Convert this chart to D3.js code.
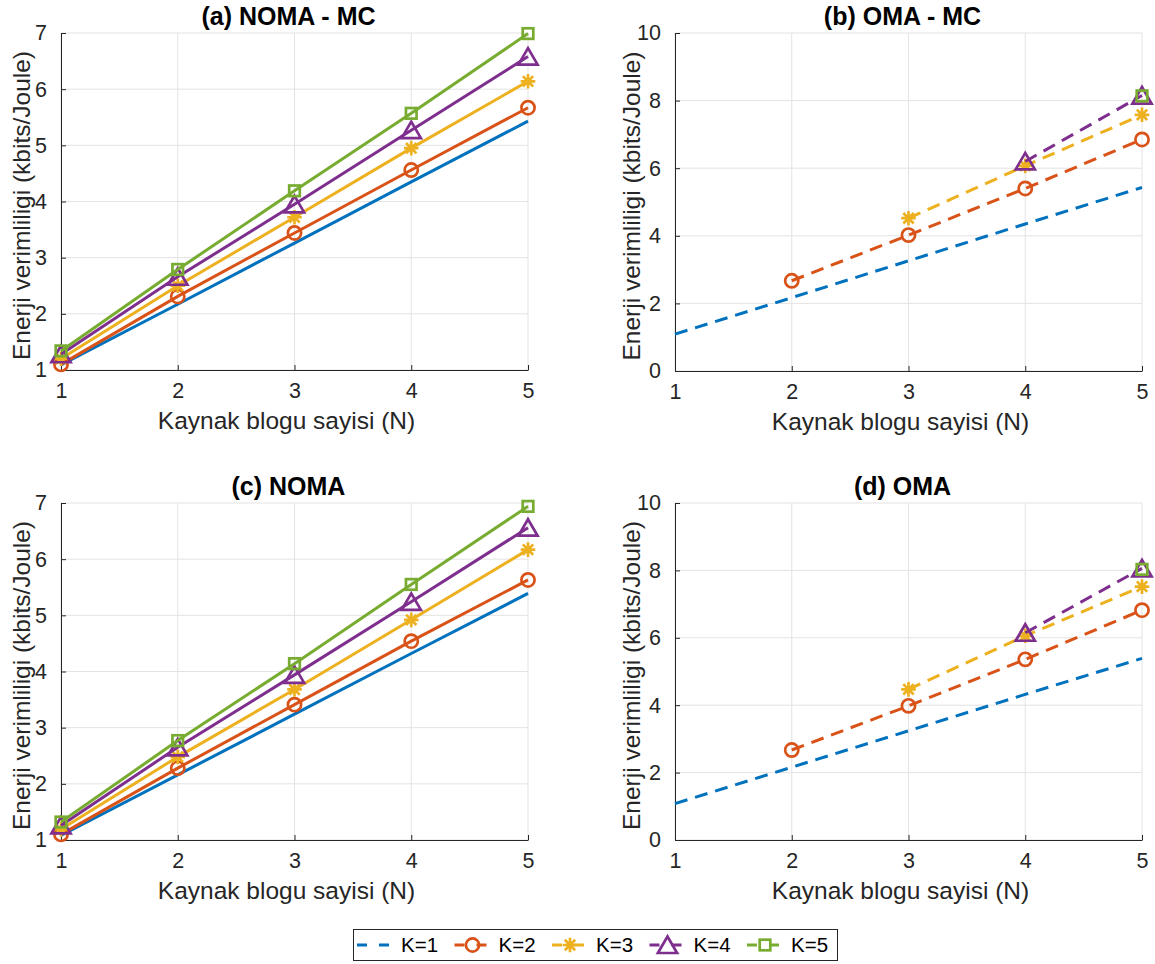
<!DOCTYPE html>
<html>
<head>
<meta charset="utf-8">
<script src="https://cdn.jsdelivr.net/npm/d3@7"></script>
<style>
  html, body { margin: 0; padding: 0; background: #fff; }
  svg { display: block; }
</style>
</head>
<body>
<script>
// ---------------- DATA ----------------
const N = [1, 2, 3, 4, 5];
const kLabels = ["K=1", "K=2", "K=3", "K=4", "K=5"];
const xTicks = [1, 2, 3, 4, 5];
const yTicksNoma = [1, 2, 3, 4, 5, 6, 7];
const yTicksOma = [0, 2, 4, 6, 8, 10];

// (a) NOMA - MC : one row per K
const nomaMC = [
  [1.09, 2.17, 3.26, 4.35, 5.43],
  [1.10, 2.31, 3.44, 4.56, 5.67],
  [1.20, 2.50, 3.72, 4.95, 6.14],
  [1.28, 2.66, 3.95, 5.27, 6.58],
  [1.34, 2.79, 4.19, 5.57, 6.99]
];
// (b) OMA - MC (null where N < K)
const omaMC = [
  [1.09, 2.17, 3.26, 4.35, 5.43],
  [null, 2.67, 4.02, 5.40, 6.85],
  [null, null, 4.52, 6.07, 7.58],
  [null, null, null, 6.20, 8.15],
  [null, null, null, null, 8.14]
];
// (c) NOMA
const noma = [
  [1.08, 2.16, 3.24, 4.32, 5.39],
  [1.10, 2.28, 3.41, 4.54, 5.63],
  [1.19, 2.48, 3.68, 4.92, 6.17],
  [1.26, 2.65, 3.94, 5.24, 6.56],
  [1.32, 2.77, 4.14, 5.55, 6.94]
];
// (d) OMA
const oma = [
  [1.08, 2.16, 3.24, 4.32, 5.39],
  [null, 2.67, 3.98, 5.36, 6.82],
  [null, null, 4.47, 6.06, 7.52],
  [null, null, null, 6.15, 8.06],
  [null, null, null, null, 8.03]
];

const panelTitles = ["(a) NOMA - MC", "(b) OMA - MC", "(c) NOMA", "(d) OMA"];
const xLabel = "Kaynak blogu sayisi (N)";
const yLabel = "Enerji verimliligi (kbits/Joule)";

// ---------------- STYLE ----------------
const W = 1155, H = 964;
const colors = ["#0072BD", "#D95319", "#EDB120", "#7E2F8E", "#77AC30"];
const markerTypes = [null, "circle", "asterisk", "triangle", "square"];
const FONT = "'Liberation Sans', Arial, Helvetica, sans-serif";
const AX = "#262626";
const GRID = "#e3e3e3";
const LW = 3;
const DASH = "13,8";

const svg = d3.select("body").append("svg")
  .attr("width", W).attr("height", H)
  .style("font-family", FONT);

const panels = [
  { title: panelTitles[0], data: nomaMC, dashed: false, yDom: [1, 7], yTicks: yTicksNoma, box: [61, 528, 33, 370], yl: 31 },
  { title: panelTitles[1], data: omaMC, dashed: true, yDom: [0, 10], yTicks: yTicksOma, box: [675, 1142, 33, 371], yl: 35 },
  { title: panelTitles[2], data: noma, dashed: false, yDom: [1, 7], yTicks: yTicksNoma, box: [61, 528, 503, 840], yl: 31 },
  { title: panelTitles[3], data: oma, dashed: true, yDom: [0, 10], yTicks: yTicksOma, box: [675, 1142, 503, 840], yl: 35 }
];

function drawMarker(g, type, cx, cy, color) {
  const s = g.append("g").attr("transform", `translate(${cx},${cy})`)
    .attr("fill", "none").attr("stroke", color).attr("stroke-width", 2.7);
  if (type === "circle") {
    s.append("circle").attr("r", 6.6);
  } else if (type === "square") {
    s.append("rect").attr("x", -5.3).attr("y", -5.3).attr("width", 10.6).attr("height", 10.6);
  } else if (type === "triangle") {
    s.append("path").attr("d", "M0,-8.5L9.6,8L-9.6,8Z").attr("stroke-linejoin", "miter");
  } else if (type === "asterisk") {
    const r = 7.3, d = 5.2;
    s.append("path").attr("d", `M${-r},0L${r},0M0,${-r}L0,${r}M${-d},${-d}L${d},${d}M${-d},${d}L${d},${-d}`);
  }
}

panels.forEach(p => {
  const [L, R, T, B] = p.box;
  const x = d3.scaleLinear().domain([1, 5]).range([L, R]);
  const y = d3.scaleLinear().domain(p.yDom).range([B, T]);
  const g = svg.append("g");

  // grid
  g.append("g").selectAll("line").data(xTicks).join("line")
    .attr("x1", d => x(d)).attr("x2", d => x(d)).attr("y1", T).attr("y2", B)
    .attr("stroke", GRID).attr("stroke-width", 1);
  g.append("g").selectAll("line").data(p.yTicks).join("line")
    .attr("x1", L).attr("x2", R).attr("y1", d => y(d)).attr("y2", d => y(d))
    .attr("stroke", GRID).attr("stroke-width", 1);

  // axes (D3 axes, inward ticks)
  const xAxis = d3.axisBottom(x).tickValues(xTicks).tickFormat(d3.format("d"))
    .tickSizeInner(-5).tickSizeOuter(0).tickPadding(13);
  const gx = g.append("g").attr("transform", `translate(0,${B})`).call(xAxis);
  const yAxis = d3.axisLeft(y).tickValues(p.yTicks).tickFormat(d3.format("d"))
    .tickSizeInner(-5).tickSizeOuter(0).tickPadding(14);
  const gy = g.append("g").attr("transform", `translate(${L},0)`).call(yAxis);
  [gx, gy].forEach(a => {
    a.select(".domain").attr("stroke", AX).attr("stroke-width", 1);
    a.selectAll(".tick line").attr("stroke", AX).attr("stroke-width", 1);
    a.selectAll(".tick text").attr("fill", AX).style("font-size", "21.5px").style("font-family", FONT);
  });

  // series
  const line = d3.line().defined(d => d.v !== null).x(d => x(d.n)).y(d => y(d.v));
  p.data.forEach((vals, k) => {
    const pts = N.map((n, i) => ({ n, v: vals[i] }));
    g.append("path").datum(pts).attr("d", line)
      .attr("fill", "none").attr("stroke", colors[k]).attr("stroke-width", LW)
      .attr("stroke-dasharray", p.dashed ? DASH : null);
    if (markerTypes[k]) {
      pts.filter(d => d.v !== null).forEach(d => drawMarker(g, markerTypes[k], x(d.n), y(d.v), colors[k]));
    }
  });

  // title
  g.append("text").attr("x", (L + R) / 2 - 6).attr("y", T - 8)
    .attr("text-anchor", "middle").attr("font-weight", "bold")
    .style("font-size", "25px").attr("fill", "#000").text(p.title);
  // x label
  g.append("text").attr("x", (L + R) / 2 - 8).attr("y", B + 59)
    .attr("text-anchor", "middle").style("font-size", "24.5px").attr("fill", AX).text(xLabel);
  // y label
  g.append("text").attr("transform", `translate(${L - p.yl},${(T + B) / 2 + 4}) rotate(-90)`)
    .attr("text-anchor", "middle").style("font-size", "24.5px").attr("fill", AX).text(yLabel);
});

// ---------------- LEGEND ----------------
const lg = svg.append("g");
lg.append("rect").attr("x", 353.5).attr("y", 929.5).attr("width", 484).attr("height", 31)
  .attr("fill", "#fff").attr("stroke", AX).attr("stroke-width", 1);
kLabels.forEach((lab, k) => {
  const x0 = 355 + k * 97.5, yc = 945;
  lg.append("line").attr("x1", x0 + 2).attr("x2", x0 + 38).attr("y1", yc).attr("y2", yc)
    .attr("stroke", colors[k]).attr("stroke-width", LW).attr("stroke-dasharray", "10,12");
  if (markerTypes[k]) drawMarker(lg, markerTypes[k], x0 + 20, yc, colors[k]);
  lg.append("text").attr("x", x0 + 46).attr("y", yc + 7).style("font-size", "20.5px")
    .attr("fill", "#000").text(lab);
});
</script>
</body>
</html>
